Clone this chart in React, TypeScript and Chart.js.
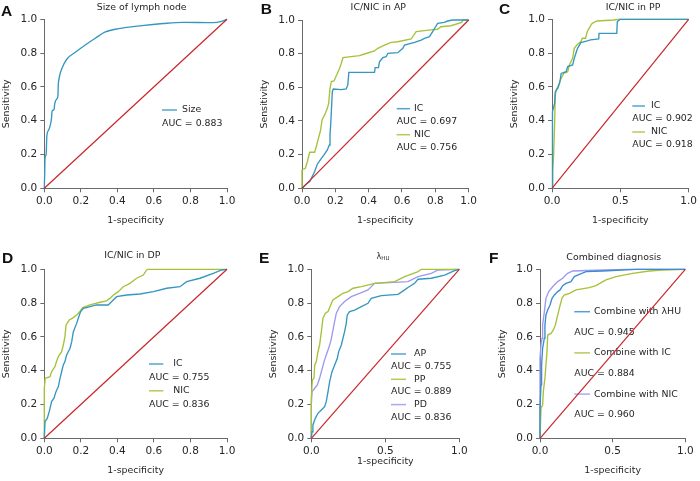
import React, { useEffect, useRef } from "react";
import { Chart, registerables } from "chart.js";
Chart.register(...registerables);

// ---------- data ----------
const DIAG = [[0, 0], [1, 1]];

const A_SIZE = [[0,0],[0.002,0.08],[0.004,0.18],[0.01,0.2],[0.014,0.31],[0.024,0.345],[0.033,0.375],[0.04,0.42],[0.042,0.455],[0.053,0.465],[0.057,0.5],[0.069,0.53],[0.075,0.55],[0.076,0.6],[0.08,0.645],[0.097,0.71],[0.124,0.765],[0.17,0.805],[0.224,0.848],[0.279,0.888],[0.334,0.925],[0.407,0.945],[0.535,0.963],[0.65,0.975],[0.76,0.982],[0.925,0.98],[0.97,0.988],[1,1]];

const B_IC = [[0,0],[0.02,0.02],[0.046,0.04],[0.056,0.06],[0.076,0.1],[0.092,0.143],[0.112,0.172],[0.132,0.198],[0.152,0.228],[0.164,0.257],[0.168,0.317],[0.172,0.376],[0.176,0.455],[0.182,0.574],[0.188,0.59],[0.236,0.586],[0.265,0.59],[0.275,0.614],[0.281,0.689],[0.435,0.689],[0.439,0.717],[0.459,0.717],[0.465,0.752],[0.485,0.776],[0.505,0.782],[0.515,0.802],[0.575,0.806],[0.605,0.832],[0.615,0.851],[0.675,0.867],[0.715,0.881],[0.735,0.891],[0.765,0.901],[0.784,0.931],[0.798,0.954],[0.814,0.98],[0.854,0.986],[0.874,0.994],[0.904,1],[1,1]];
const B_NIC = [[0,0],[0,0.109],[0.02,0.119],[0.032,0.158],[0.046,0.214],[0.076,0.214],[0.086,0.248],[0.096,0.287],[0.112,0.347],[0.12,0.406],[0.136,0.436],[0.152,0.475],[0.16,0.505],[0.168,0.594],[0.176,0.634],[0.192,0.638],[0.226,0.713],[0.236,0.743],[0.246,0.776],[0.295,0.782],[0.345,0.788],[0.375,0.798],[0.435,0.816],[0.455,0.832],[0.495,0.851],[0.535,0.867],[0.575,0.871],[0.655,0.887],[0.685,0.931],[0.774,0.941],[0.814,0.945],[0.834,0.96],[0.894,0.966],[0.958,0.986],[0.966,1],[1,1]];

const C_IC = [[0,0],[0,0.335],[0.007,0.454],[0.019,0.503],[0.024,0.572],[0.043,0.592],[0.055,0.621],[0.062,0.651],[0.067,0.68],[0.103,0.69],[0.115,0.72],[0.151,0.73],[0.163,0.769],[0.175,0.799],[0.187,0.828],[0.211,0.862],[0.258,0.872],[0.282,0.878],[0.342,0.884],[0.344,0.917],[0.474,0.917],[0.478,0.986],[0.498,1],[1,1]];
const C_NIC = [[0,0],[0.005,0.099],[0.012,0.197],[0.019,0.375],[0.024,0.552],[0.031,0.582],[0.048,0.611],[0.067,0.651],[0.086,0.68],[0.115,0.69],[0.127,0.73],[0.151,0.769],[0.163,0.828],[0.182,0.848],[0.211,0.868],[0.222,0.888],[0.246,0.888],[0.258,0.927],[0.278,0.957],[0.294,0.976],[0.33,0.99],[0.45,0.996],[0.486,1],[1,1]];

const D_IC = [[0,0],[0.004,0.099],[0.016,0.118],[0.027,0.158],[0.04,0.217],[0.053,0.237],[0.064,0.276],[0.077,0.306],[0.086,0.355],[0.095,0.394],[0.104,0.434],[0.113,0.454],[0.122,0.493],[0.141,0.533],[0.15,0.572],[0.159,0.631],[0.177,0.68],[0.192,0.73],[0.199,0.75],[0.214,0.769],[0.25,0.779],[0.286,0.789],[0.35,0.789],[0.369,0.809],[0.396,0.838],[0.451,0.848],[0.524,0.854],[0.597,0.868],[0.67,0.888],[0.743,0.897],[0.779,0.927],[0.852,0.947],[0.925,0.976],[0.971,0.996],[1,1]];
const D_NIC = [[0,0],[0,0.296],[0.005,0.355],[0.031,0.365],[0.04,0.394],[0.058,0.424],[0.067,0.454],[0.077,0.483],[0.095,0.513],[0.104,0.552],[0.113,0.602],[0.119,0.671],[0.137,0.7],[0.159,0.714],[0.177,0.73],[0.195,0.75],[0.21,0.773],[0.25,0.789],[0.305,0.805],[0.341,0.813],[0.359,0.828],[0.378,0.848],[0.405,0.868],[0.432,0.897],[0.469,0.917],[0.505,0.947],[0.542,0.966],[0.56,0.996],[0.566,1],[1,1]];

const E_AP = [[0,0],[0.005,0.039],[0.011,0.079],[0.027,0.118],[0.045,0.148],[0.068,0.168],[0.09,0.187],[0.101,0.217],[0.113,0.276],[0.124,0.335],[0.14,0.394],[0.158,0.434],[0.176,0.473],[0.185,0.513],[0.203,0.552],[0.214,0.592],[0.225,0.631],[0.236,0.68],[0.243,0.73],[0.259,0.75],[0.293,0.759],[0.338,0.779],[0.383,0.799],[0.405,0.828],[0.473,0.844],[0.586,0.852],[0.631,0.878],[0.653,0.892],[0.698,0.917],[0.721,0.941],[0.811,0.947],[0.901,0.966],[0.968,0.992],[1,1]];
const E_PP = [[0,0],[0,0.237],[0.007,0.345],[0.018,0.355],[0.023,0.434],[0.034,0.454],[0.045,0.513],[0.056,0.552],[0.068,0.631],[0.079,0.71],[0.095,0.74],[0.113,0.75],[0.131,0.789],[0.146,0.819],[0.18,0.838],[0.214,0.858],[0.248,0.868],[0.282,0.888],[0.338,0.897],[0.428,0.917],[0.563,0.927],[0.631,0.957],[0.721,0.986],[0.743,1],[1,1]];
const E_PD = [[0,0],[0,0.197],[0.005,0.276],[0.023,0.296],[0.041,0.316],[0.056,0.355],[0.068,0.394],[0.086,0.454],[0.101,0.493],[0.117,0.533],[0.131,0.572],[0.14,0.611],[0.153,0.671],[0.169,0.74],[0.191,0.779],[0.225,0.809],[0.27,0.838],[0.326,0.858],[0.383,0.878],[0.428,0.917],[0.563,0.923],[0.653,0.927],[0.721,0.957],[0.811,0.976],[0.856,0.996],[1,1]];

const F_HU = [[0,0],[0,0.178],[0.007,0.316],[0.011,0.434],[0.018,0.533],[0.03,0.592],[0.034,0.671],[0.041,0.73],[0.053,0.759],[0.069,0.789],[0.083,0.828],[0.099,0.848],[0.122,0.868],[0.138,0.878],[0.156,0.903],[0.179,0.917],[0.213,0.927],[0.236,0.957],[0.259,0.966],[0.317,0.986],[0.431,0.99],[0.66,1],[1,1]];
const F_IC = [[0,0],[0.007,0.178],[0.018,0.197],[0.023,0.276],[0.034,0.355],[0.041,0.434],[0.048,0.513],[0.053,0.611],[0.076,0.621],[0.092,0.641],[0.106,0.671],[0.122,0.73],[0.133,0.769],[0.151,0.828],[0.167,0.848],[0.202,0.858],[0.248,0.878],[0.339,0.892],[0.385,0.903],[0.454,0.937],[0.523,0.957],[0.638,0.976],[0.752,0.99],[0.844,0.996],[1,1]];
const F_NIC = [[0,0],[0,0.473],[0.007,0.552],[0.014,0.592],[0.018,0.671],[0.03,0.75],[0.041,0.828],[0.06,0.868],[0.087,0.897],[0.122,0.927],[0.156,0.947],[0.19,0.976],[0.225,0.99],[0.431,0.996],[0.615,1],[1,1]];

const AUC_A = ["0.883"];
const AUC_B = ["0.697", "0.756"];
const AUC_C = ["0.902", "0.918"];
const AUC_D = ["0.755", "0.836"];
const AUC_E = ["0.755", "0.889", "0.836"];
const AUC_F = ["0.945", "0.884", "0.960"];

const TICKS_FINE = 0.2;
const TICKS_COARSE = 0.5;

// ---------- styles ----------
const BLUE = "#3597bf";
const OLIVE = "#a6c23a";
const LAV = "#9c9aee";
const FBLUE = "#3a8dd0";
const RED = "#c8262a";
const AXIS = "#6a6a6a";
const TEXT = "#262626";
const FONT = "'DejaVu Sans', Verdana, sans-serif";
const TXT_SIZE = 9.4;
const TICK_SIZE = 10.5;
const Y_W = 43;
const X_H = 40;

type Series = { label: string; auc: string; color: string; pts: number[][] };
type PanelCfg = {
  letter: string; letterPos: number[];
  title: string; titlePos: number[];
  box: number[]; plot: number[]; // L, R, T, B
  step: number; xTitleGap: number;
  leg: { x: number; y: number; dy: number; len: number; gap: number };
  series: Series[];
};

const PANELS: PanelCfg[] = [
  {
    letter: "A", letterPos: [1, 11.5], title: "Size of lymph node", titlePos: [141.7, 7.5],
    box: [0, 0, 240, 240], plot: [44.3, 227, 19.3, 188.3], step: TICKS_FINE, xTitleGap: 32,
    leg: { x: 162, y: 110, dy: 14, len: 15, gap: 5 },
    series: [{ label: "Size", auc: AUC_A[0], color: BLUE, pts: A_SIZE }],
  },
  {
    letter: "B", letterPos: [260.7, 10], title: "IC/NIC in AP", titlePos: [378.3, 7.5],
    box: [240, 0, 240, 240], plot: [302, 469, 20, 188.3], step: TICKS_FINE, xTitleGap: 32,
    leg: { x: 396.7, y: 108.7, dy: 13, len: 13.3, gap: 4 },
    series: [
      { label: "IC", auc: AUC_B[0], color: BLUE, pts: B_IC },
      { label: "NIC", auc: AUC_B[1], color: OLIVE, pts: B_NIC },
    ],
  },
  {
    letter: "C", letterPos: [499, 10], title: "IC/NIC in PP", titlePos: [633, 7.5],
    box: [480, 0, 220, 240], plot: [552, 691.3, 19.3, 188.3], step: TICKS_COARSE, xTitleGap: 32,
    leg: { x: 632.3, y: 106, dy: 13, len: 12.7, gap: 6 },
    series: [
      { label: "IC", auc: AUC_C[0], color: BLUE, pts: C_IC },
      { label: "NIC", auc: AUC_C[1], color: OLIVE, pts: C_NIC },
    ],
  },
  {
    letter: "D", letterPos: [2, 259], title: "IC/NIC in DP", titlePos: [132.3, 256],
    box: [0, 240, 240, 241], plot: [44.3, 227, 269.3, 438.3], step: TICKS_FINE, xTitleGap: 32,
    leg: { x: 149, y: 364, dy: 13.4, len: 14.3, gap: 10 },
    series: [
      { label: "IC", auc: AUC_D[0], color: BLUE, pts: D_IC },
      { label: "NIC", auc: AUC_D[1], color: OLIVE, pts: D_NIC },
    ],
  },
  {
    letter: "E", letterPos: [259, 259], title: "λ|HU", titlePos: [383, 256.7],
    box: [240, 240, 240, 241], plot: [311.3, 459.3, 269.3, 438.3], step: TICKS_COARSE, xTitleGap: 23,
    leg: { x: 391, y: 354, dy: 12.65, len: 15, gap: 8 },
    series: [
      { label: "AP", auc: AUC_E[0], color: BLUE, pts: E_AP },
      { label: "PP", auc: AUC_E[1], color: OLIVE, pts: E_PP },
      { label: "PD", auc: AUC_E[2], color: LAV, pts: E_PD },
    ],
  },
  {
    letter: "F", letterPos: [489, 259], title: "Combined diagnosis", titlePos: [613.8, 257.3],
    box: [480, 240, 220, 241], plot: [540, 685.3, 269.3, 438.3], step: TICKS_COARSE, xTitleGap: 32,
    leg: { x: 574.3, y: 311.7, dy: 20.6, len: 15.7, gap: 4 },
    series: [
      { label: "Combine with λHU", auc: AUC_F[0], color: FBLUE, pts: F_HU },
      { label: "Combine with IC", auc: AUC_F[1], color: OLIVE, pts: F_IC },
      { label: "Combine with NIC", auc: AUC_F[2], color: LAV, pts: F_NIC },
    ],
  },
];

function makeDecor(cfg: PanelCfg) {
  const [bx, by] = cfg.box;
  return {
    id: "decor" + cfg.letter,
    beforeDatasetsDraw(chart: any) {
      const ctx = chart.ctx;
      ctx.save();
      ctx.font = `${TXT_SIZE}px ${FONT}`;
      ctx.textBaseline = "middle";
      ctx.textAlign = "left";
      cfg.series.forEach((s, i) => {
        const y1 = cfg.leg.y + 2 * i * cfg.leg.dy - by;
        const x = cfg.leg.x - bx;
        ctx.strokeStyle = s.color;
        ctx.globalAlpha = 0.85;
        ctx.lineWidth = 1.5;
        ctx.beginPath();
        ctx.moveTo(x, y1);
        ctx.lineTo(x + cfg.leg.len, y1);
        ctx.stroke();
        ctx.globalAlpha = 1;
        ctx.fillStyle = TEXT;
        ctx.fillText(s.label, x + cfg.leg.len + cfg.leg.gap, y1);
        ctx.fillText("AUC = " + s.auc, x, y1 + cfg.leg.dy);
      });
      ctx.restore();
    },
    afterDraw(chart: any) {
      const ctx = chart.ctx;
      ctx.save();
      ctx.fillStyle = "#111";
      ctx.font = `bold 15.5px 'Liberation Sans', Arial, sans-serif`;
      ctx.textBaseline = "middle";
      ctx.textAlign = "left";
      ctx.fillText(cfg.letter, cfg.letterPos[0] - bx, cfg.letterPos[1] - by);
      ctx.fillStyle = TEXT;
      if (cfg.title.includes("|")) {
        const [main, sub] = cfg.title.split("|");
        ctx.font = `8px ${FONT}`;
        const w1 = ctx.measureText(main).width;
        ctx.font = `5.5px ${FONT}`;
        const w2 = ctx.measureText(sub).width;
        const x0 = cfg.titlePos[0] - bx - (w1 + w2) / 2;
        ctx.font = `8px ${FONT}`;
        ctx.fillText(main, x0, cfg.titlePos[1] - by);
        ctx.font = `5.5px ${FONT}`;
        ctx.fillText(sub, x0 + w1, cfg.titlePos[1] - by + 1.5);
      } else {
        ctx.font = `${TXT_SIZE}px ${FONT}`;
        ctx.textAlign = "center";
        ctx.fillText(cfg.title, cfg.titlePos[0] - bx, cfg.titlePos[1] - by);
      }
      ctx.restore();
    },
  };
}

function Panel({ cfg }: { cfg: PanelCfg }) {
  const ref = useRef<HTMLCanvasElement>(null);
  useEffect(() => {
    const [bx, by, bw, bh] = cfg.box;
    const [L, R, T, B] = cfg.plot;
    const lh = TXT_SIZE * 1.2;
    const tickFont = { family: FONT, size: TICK_SIZE };
    const titleFont = { family: FONT, size: TXT_SIZE };
    const datasets: any[] = [
      {
        data: DIAG.map(([x, y]) => ({ x, y })),
        borderColor: RED, borderWidth: 1.2, pointRadius: 0, clip: false,
      },
      ...cfg.series.map((s) => ({
        data: s.pts.map(([x, y]) => ({ x, y })),
        borderColor: s.color, borderWidth: 1.35, pointRadius: 0, clip: false,
        cubicInterpolationMode: cfg.letter === "A" ? "monotone" : "default",
        tension: 0,
      })),
    ];
    const chart = new Chart(ref.current as HTMLCanvasElement, {
      type: "line",
      data: { datasets },
      plugins: [makeDecor(cfg)],
      options: {
        animation: false,
        responsive: false,
        devicePixelRatio: 1,
        events: [],
        layout: {
          padding: {
            left: L - bx - Y_W,
            right: bx + bw - R,
            top: T - by,
            bottom: by + bh - B - X_H,
          },
        },
        plugins: { legend: { display: false }, tooltip: { enabled: false }, title: { display: false } },
        scales: {
          x: {
            type: "linear", min: 0, max: 1,
            ticks: {
              stepSize: cfg.step, autoSkip: false, maxRotation: 0, padding: 3,
              color: TEXT, font: tickFont,
              callback: (v: any) => Number(v).toFixed(1),
            },
            grid: { drawOnChartArea: false, drawTicks: true, tickLength: 4, color: AXIS },
            border: { display: true, color: AXIS, width: 1 },
            title: {
              display: true, text: "1-specificity", color: TEXT, font: titleFont,
              padding: { top: 0, bottom: X_H - cfg.xTitleGap - lh / 2 },
            },
            afterFit: (s: any) => { s.height = X_H; },
          },
          y: {
            type: "linear", min: 0, max: 1,
            ticks: {
              stepSize: 0.2, autoSkip: false, padding: 3,
              color: TEXT, font: tickFont,
              callback: (v: any) => Number(v).toFixed(1),
            },
            grid: { drawOnChartArea: false, drawTicks: true, tickLength: 4, color: AXIS },
            border: { display: true, color: AXIS, width: 1 },
            title: {
              display: true, text: "Sensitivity", color: TEXT, font: titleFont,
              padding: { top: 0, bottom: 0 },
            },
            afterFit: (s: any) => { s.width = Y_W; },
          },
        },
      } as any,
    });
    return () => chart.destroy();
  }, []);
  const [bx, by, bw, bh] = cfg.box;
  return (
    <canvas
      ref={ref}
      width={bw}
      height={bh}
      style={{ position: "absolute", left: bx, top: by, width: bw, height: bh }}
    />
  );
}

export default function App() {
  return (
    <div style={{ position: "fixed", left: 0, top: 0, width: 700, height: 481, background: "#fff", overflow: "hidden" }}>
      {PANELS.map((p) => (
        <Panel key={p.letter} cfg={p} />
      ))}
    </div>
  );
}
